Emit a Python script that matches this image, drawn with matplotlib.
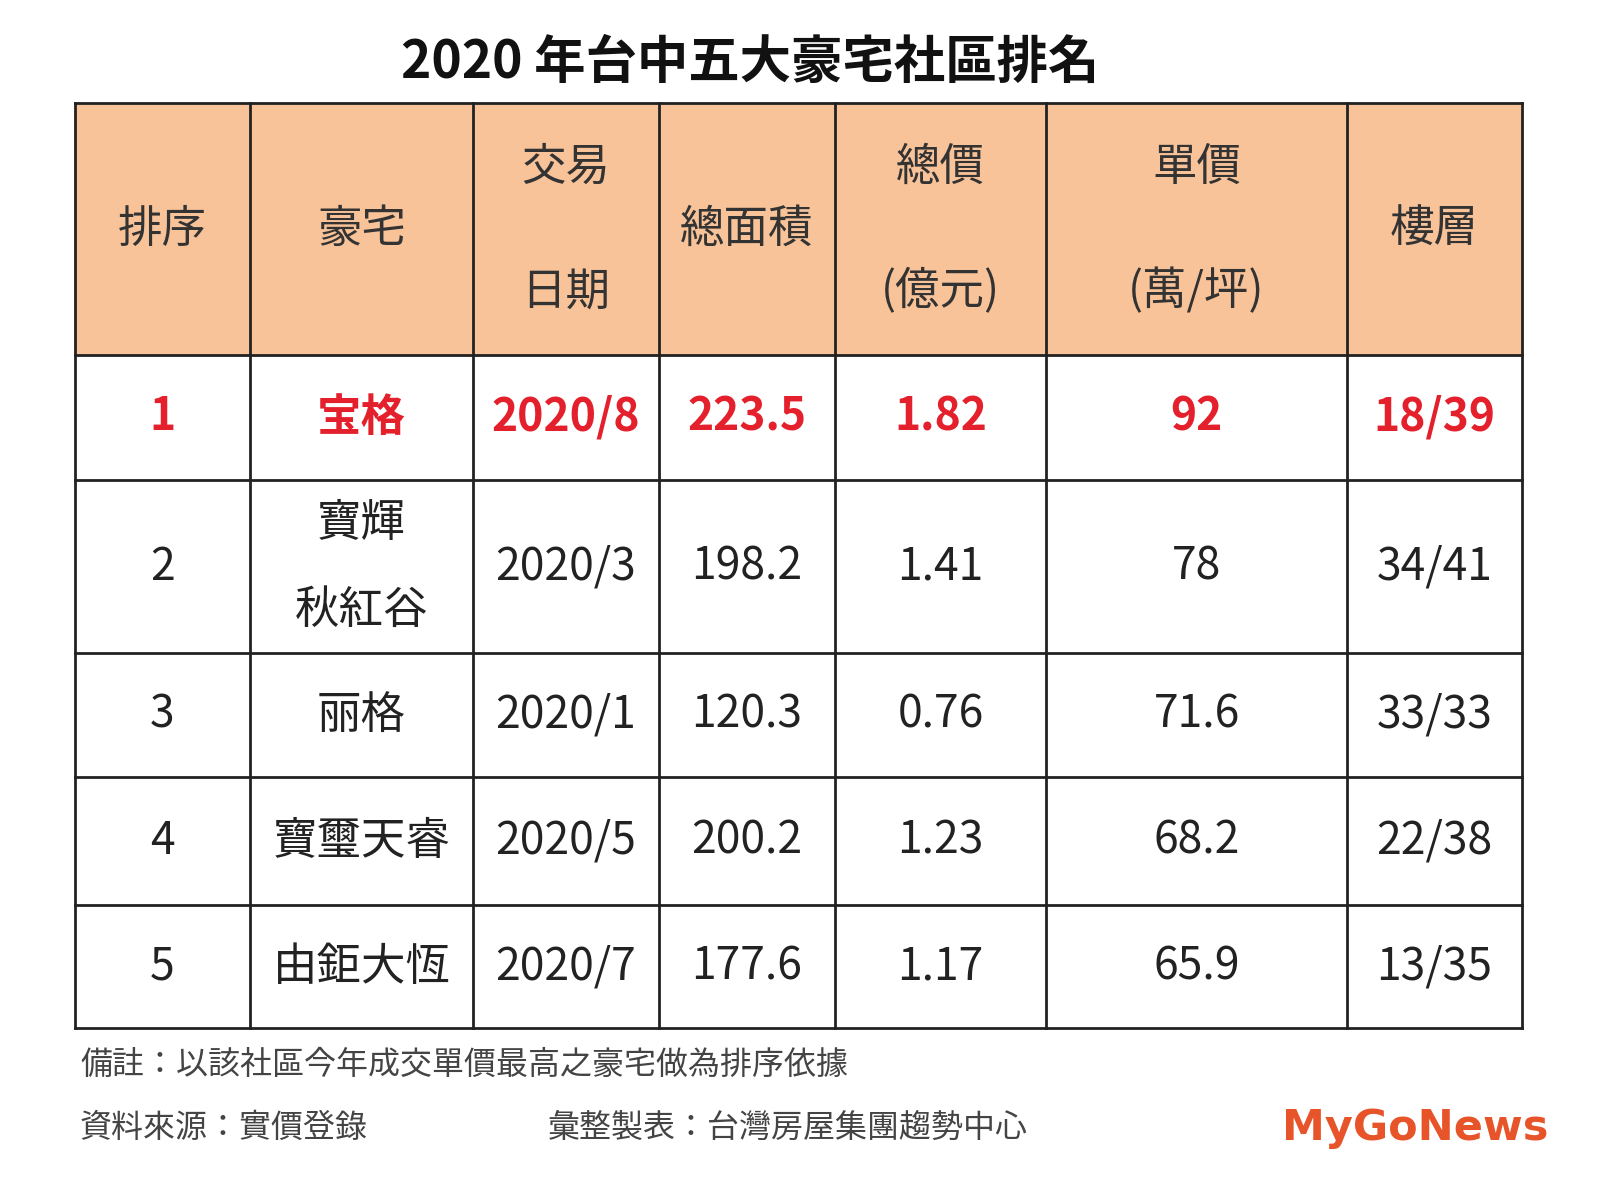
import matplotlib
matplotlib.use("Agg")
import matplotlib.pyplot as plt
from matplotlib import font_manager as fm

title = "2020 年台中五大豪宅社區排名"
headers = ["排序", "豪宅", "交易\n日期", "總面積", "總價\n(億元)", "單價\n(萬/坪)", "樓層"]
ranks = ["1", "2", "3", "4", "5"]
names = ["宝格", "寶輝\n秋紅谷", "丽格", "寶璽天睿", "由鉅大恆"]
dates = ["2020/8", "2020/3", "2020/1", "2020/5", "2020/7"]
areas = ["223.5", "198.2", "120.3", "200.2", "177.6"]
totals = ["1.82", "1.41", "0.76", "1.23", "1.17"]
units = ["92", "78", "71.6", "68.2", "65.9"]
floors = ["18/39", "34/41", "33/33", "22/38", "13/35"]
note1 = "備註：以該社區今年成交單價最高之豪宅做為排序依據"
note2a = "資料來源：實價登錄"
note2b = "彙整製表：台灣房屋集團趨勢中心"

cjk_path = None
for f in fm.findSystemFonts():
    n = f.lower()
    if "cjk" in n and ("notosanscjk" in n.replace("-", "").replace("_", "")):
        if cjk_path is None or "regular" in n:
            cjk_path = f
for e in fm.fontManager.ttflist:
    if "CJK" in e.name and cjk_path is None:
        cjk_path = e.fname
if cjk_path:
    fm.fontManager.addfont(cjk_path)
    fam = fm.FontProperties(fname=cjk_path).get_name()
else:
    fam = "Noto Sans CJK TC"
plt.rcParams["font.family"] = [fam, "DejaVu Sans"]

xs = [75, 250, 473, 659, 835, 1046, 1347, 1522]
ys = [103, 355, 480, 653, 777, 905, 1028]

fig = plt.figure(figsize=(16, 12), dpi=100)
ax = fig.add_axes([0, 0, 1, 1])
ax.set_xlim(0, 1600); ax.set_ylim(1200, 0); ax.axis("off")

ax.add_patch(plt.Rectangle((xs[0], ys[0]), xs[-1]-xs[0], ys[1]-ys[0], color="#F8C399", zorder=0))
for x in xs:
    ax.plot([x, x], [ys[0], ys[-1]], color="#222222", lw=2)
for y in ys:
    ax.plot([xs[0], xs[-1]], [y, y], color="#222222", lw=2)

ax.text(750, 62, title, ha="center", va="center", fontsize=37, fontweight="bold", color="#111111")

def cx(i): return (xs[i] + xs[i+1]) / 2
def cy(j): return (ys[j] + ys[j+1]) / 2

def put(x, y, s, gap, **kw):
    lines = s.split("\n")
    n = len(lines)
    for k, ln in enumerate(lines):
        ax.text(x, y + (k - (n - 1) / 2) * gap, ln, ha="center", va="center", **kw)

for i, h in enumerate(headers):
    put(cx(i), cy(0), h, 125, fontsize=32, color="#333333")

cols = [ranks, names, dates, areas, totals, units, floors]
for r in range(5):
    for c, col in enumerate(cols):
        red = r == 0
        put(cx(c), cy(r+1), col[r], 86,
            fontsize=32, color="#E3202C" if red else "#222222",
            fontweight="bold" if red else "normal")

ax.text(80, 1065, note1, ha="left", va="center", fontsize=23, color="#444444")
ax.text(80, 1128, note2a, ha="left", va="center", fontsize=23, color="#444444")
ax.text(548, 1128, note2b, ha="left", va="center", fontsize=23, color="#444444")
ax.text(1548, 1128, "MyGoNews", ha="right", va="center", fontsize=31, fontweight="bold",
        color="#E8542A", family="DejaVu Sans")

fig.savefig("out.png", dpi=100)
